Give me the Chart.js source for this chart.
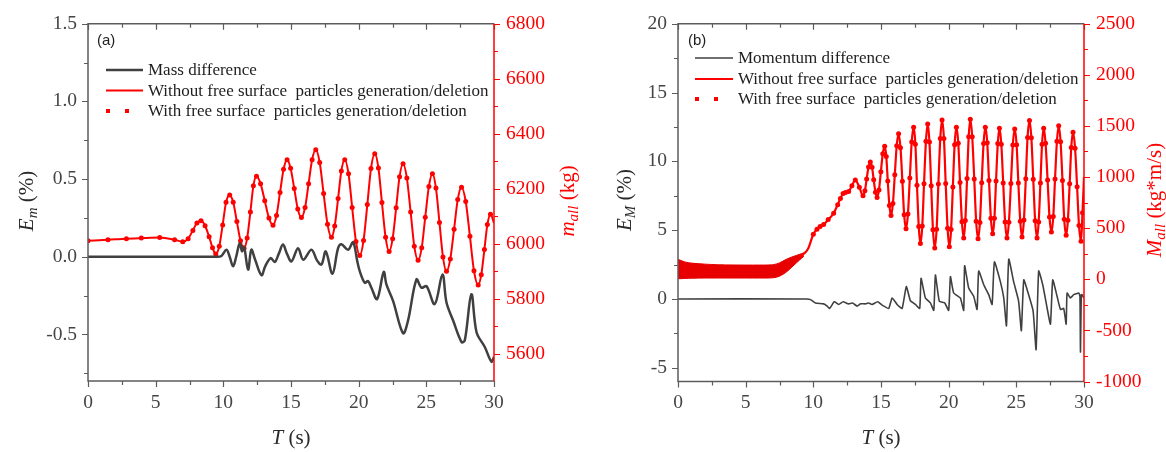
<!DOCTYPE html>
<html>
<head>
<meta charset="utf-8">
<title>Mass and momentum difference</title>
<script src="https://cdn.jsdelivr.net/npm/chart.js@4.4.1/dist/chart.umd.min.js"></script>
<style>
  body { margin: 0; background: #fff; }
  #wrap { position: relative; width: 1166px; height: 452px; }
  canvas { position: absolute; top: 0; }
  #mass_chart { left: 0; }
  #momentum_chart { left: 583px; }
</style>
</head>
<body>
<div id="wrap">
  <canvas id="mass_chart" width="583" height="452"></canvas>
  <canvas id="momentum_chart" width="583" height="452"></canvas>
</div>
<script>
// ---- panel (a): mass ----
const massTime = [
  0, 1.48, 2.84, 3.94, 5.3, 6.4, 7.0, 7.4, 7.75, 8.05, 8.35, 8.65, 8.95, 9.2, 9.44,
  9.7, 9.95, 10.2, 10.47, 10.73, 11.0, 11.27, 11.53, 11.76, 12.0, 12.22, 12.45,
  12.75, 13.06, 13.37, 13.67, 13.93, 14.19, 14.45, 14.71, 14.97, 15.24, 15.5, 15.77,
  16.04, 16.3, 16.56, 16.83, 17.12, 17.41, 17.7, 17.99, 18.23, 18.48, 18.72, 18.97,
  19.25, 19.52, 19.8, 20.08, 20.36, 20.64, 20.91, 21.19, 21.46, 21.72, 21.99, 22.25,
  22.51, 22.77, 23.02, 23.28, 23.56, 23.84, 24.11, 24.39, 24.66, 24.92, 25.19, 25.45,
  25.71, 25.97, 26.23, 26.49, 26.77, 27.05, 27.32, 27.6, 27.91, 28.22, 28.52, 28.83,
  29.06, 29.29, 29.51, 29.74, 30
];
const massWithout = [
  6010, 6014, 6018, 6020, 6022, 6014, 6007, 6018, 6048, 6075, 6083, 6065, 6025, 5985, 5962,
  5990, 6068, 6150, 6177, 6150, 6080, 6010, 5983, 6020, 6115, 6210, 6245,
  6218, 6156, 6093, 6067, 6102, 6186, 6270, 6305, 6274, 6200, 6126, 6095,
  6131, 6218, 6305, 6341, 6295, 6182, 6070, 6023, 6064, 6164, 6264, 6305,
  6254, 6131, 6008, 5957, 6011, 6142, 6273, 6327, 6275, 6149, 6023, 5971,
  6018, 6130, 6243, 6290, 6239, 6115, 5990, 5939, 5985, 6096, 6208, 6254,
  6202, 6077, 5951, 5899, 5944, 6052, 6160, 6205, 6153, 6027, 5901, 5849,
  5887, 5978, 6069, 6107, 6075
];
const massWith = [
  6010, 6014, 6018, 6020, 6022, 6014, 6007, 6018, 6048, 6075, 6083, 6065, 6025, 5985, 5962,
  5990, 6068, 6150, 6177, 6150, 6080, 6010, 5983, 6020, 6115, 6210, 6245,
  6218, 6156, 6093, 6067, 6102, 6186, 6270, 6305, 6274, 6200, 6126, 6095,
  6131, 6218, 6305, 6341, 6295, 6182, 6070, 6023, 6064, 6164, 6264, 6305,
  6254, 6131, 6008, 5957, 6011, 6142, 6273, 6327, 6275, 6149, 6023, 5971,
  6018, 6130, 6243, 6290, 6239, 6115, 5990, 5939, 5985, 6096, 6208, 6254,
  6202, 6077, 5951, 5899, 5944, 6052, 6160, 6205, 6153, 6027, 5901, 5849,
  5887, 5978, 6069, 6107, null
];
const massDiffTime = [
  0, 9.5, 9.86, 10.23, 10.45, 10.72, 10.95, 11.21, 11.38, 11.53, 11.83, 12.07, 12.35, 12.82, 13.1,
  13.5, 13.8, 14.1, 14.41, 14.7, 15.03, 15.52, 15.9, 16.51, 16.93, 17.25, 17.57, 18.06, 18.48, 18.73,
  19.22, 19.59, 19.9, 20.08, 20.45, 20.69, 20.94, 21.36, 21.85, 22.05, 22.54, 23.28, 23.65, 24.27, 24.64,
  25.01, 25.62, 26.19, 26.49, 26.98, 27.6, 27.84, 28.33, 28.71, 29.32, 29.81, 30
];
const massDiff = [
  0, 0, 0.005, 0.045, 0.005, -0.062, 0, 0.087, 0.035, 0.065, -0.083, 0.045, -0.02, -0.119, -0.06,
  -0.009, -0.034, 0.02, 0.078, 0.02, -0.03, 0.055, -0.019, 0.045, -0.025, -0.05, 0.034, -0.11, 0.055, 0.08,
  0.045, 0.093, -0.03, -0.093, -0.168, -0.157, -0.2, -0.273, -0.098, -0.178, -0.284, -0.492, -0.41, -0.146, -0.2,
  -0.189, -0.305, -0.114, -0.295, -0.411, -0.549, -0.54, -0.242, -0.486, -0.581, -0.676, -0.645
];

// ---- panel (b): momentum ----
const bandTime = [0, 0.5, 1, 2, 3, 4, 5, 6, 7, 7.5, 8, 8.5, 9, 9.3];
const bandUpper = [195, 170, 158, 148, 142, 140, 139, 139, 142, 160, 195, 222, 245, 258];
const bandLower = [5, 8, 10, 12, 12, 12, 12, 12, 14, 30, 70, 130, 190, 225];

const momTime = [
  9.0, 9.3, 9.6, 10.0, 10.27, 10.5, 10.76, 11.1, 11.5, 11.8, 12.0, 12.2, 12.37, 12.61, 12.85, 13.1, 13.4, 13.67,
  13.81, 13.94, 14.08, 14.21, 14.34, 14.46, 14.59, 14.71,
  14.85, 14.99, 15.13, 15.27, 15.39, 15.5, 15.62, 15.74,
  15.88, 16.02, 16.16, 16.3, 16.44, 16.58, 16.71, 16.85,
  16.99, 17.13, 17.27, 17.41, 17.54, 17.66, 17.79, 17.91,
  18.05, 18.18, 18.32, 18.45, 18.58, 18.71, 18.84, 18.97,
  19.11, 19.24, 19.38, 19.51, 19.65, 19.78, 19.92, 20.05,
  20.18, 20.31, 20.44, 20.57, 20.71, 20.84, 20.98, 21.11,
  21.23, 21.36, 21.48, 21.6, 21.74, 21.89, 22.03, 22.17,
  22.31, 22.44, 22.58, 22.71, 22.85, 22.98, 23.12, 23.25,
  23.38, 23.5, 23.63, 23.75, 23.89, 24.03, 24.17, 24.31,
  24.45, 24.6, 24.74, 24.88, 25.02, 25.15, 25.29, 25.42,
  25.56, 25.7, 25.83, 25.97, 26.11, 26.25, 26.39, 26.53,
  26.65, 26.78, 26.9, 27.02, 27.16, 27.31, 27.45, 27.59,
  27.73, 27.86, 28.0, 28.13, 28.27, 28.41, 28.54, 28.68,
  28.81, 28.94, 29.06, 29.19, 29.34, 29.49, 29.63, 29.78,
  29.89, 30
];
const momWithout = [
  225, 250, 295, 440, 490, 515, 535, 585, 645, 730, 790, 838, 849, 858, 915, 970, 900, 817,
  865, 982, 1098, 1146, 1095, 973, 851, 800,
  873, 1051, 1228, 1301, 1202, 962, 722, 623,
  740, 1023, 1306, 1423, 1287, 959, 630, 494,
  639, 991, 1343, 1488, 1322, 919, 515, 349,
  520, 935, 1349, 1520, 1343, 914, 484, 307,
  490, 933, 1376, 1559, 1378, 938, 498, 317,
  488, 903, 1317, 1488, 1330, 946, 562, 404,
  574, 985, 1395, 1565, 1394, 981, 568, 397,
  556, 943, 1329, 1488, 1336, 967, 597, 445,
  596, 962, 1327, 1478, 1321, 941, 561, 404,
  559, 937, 1313, 1469, 1315, 941, 567, 413,
  579, 983, 1387, 1553, 1385, 979, 572, 404,
  561, 941, 1321, 1478, 1330, 970, 610, 462,
  614, 982, 1349, 1501, 1345, 966, 586, 430,
  577, 934, 1290, 1437, 1282, 905, 527, 372,
  650, 1000
];
const momWith = [
  null, null, null, 440, 490, 515, 535, 585, 645, 730, 790, 838, 849, 858, 915, 970, 900, 817,
  865, 982, 1098, 1146, 1095, 973, 851, 800,
  873, 1051, 1228, 1301, 1202, 962, 722, 623,
  740, 1023, 1306, 1423, 1287, 959, 630, 494,
  639, 991, 1343, 1488, 1322, 919, 515, 349,
  520, 935, 1349, 1520, 1343, 914, 484, 307,
  490, 933, 1376, 1559, 1378, 938, 498, 317,
  488, 903, 1317, 1488, 1330, 946, 562, 404,
  574, 985, 1395, 1565, 1394, 981, 568, 397,
  556, 943, 1329, 1488, 1336, 967, 597, 445,
  596, 962, 1327, 1478, 1321, 941, 561, 404,
  559, 937, 1313, 1469, 1315, 941, 567, 413,
  579, 983, 1387, 1553, 1385, 979, 572, 404,
  561, 941, 1321, 1478, 1330, 970, 610, 462,
  614, 982, 1349, 1501, 1345, 966, 586, 430,
  577, 934, 1290, 1437, 1282, 905, 527, 372,
  650, null
];
const momDiffTime = [
  0, 9.5, 9.8, 10.15, 10.76, 11.0, 11.2, 11.55, 11.87, 12.2, 12.6, 12.9, 13.23, 13.5, 13.84,
  14.1, 14.34, 14.75, 15.08, 15.57, 15.82, 16.19, 16.56, 16.87, 17.17, 17.54, 17.86, 17.96, 18.28, 18.65,
  18.9, 19.02, 19.31, 19.7, 20.0, 20.13, 20.37, 20.86, 21.11, 21.18, 21.48, 21.85, 22.1, 22.22, 22.59,
  22.96, 23.21, 23.38, 23.82, 24.07, 24.27, 24.44, 24.8, 25.17, 25.37, 25.55, 25.87, 26.24, 26.46, 26.65,
  26.95, 27.27, 27.52, 27.69, 28.01, 28.26, 28.5, 28.68, 28.75, 28.99, 29.24, 29.61, 29.7, 29.74, 29.8,
  29.86, 29.98
];
const momDiff = [
  0, 0, -0.05, -0.29, -0.36, -0.5, -0.69, -0.21, -0.4, -0.21, -0.36, -0.3, -0.52, -0.35, -0.36,
  -0.3, -0.4, -0.21, -0.45, -0.69, 0.07, -0.4, -0.69, 0.9, -0.12, -0.4, -0.69, 1.5, 0.07, -0.29,
  -0.83, 1.74, -0.17, -0.29, -0.83, 1.62, 0.43, 0.07, -0.83, 2.41, 0.79, 0.19, -0.76, 2.03, 1.03,
  0.31, -0.4, 2.69, 1.26, 0.07, -1.95, 2.89, 1.26, -0.17, -2.31, 1.38, 0.43, -0.88, -3.69, 2.03,
  1.03, -0.64, -1.83, 1.38, 0.19, -0.76, -0.69, -1.83, 0.43, 0.07, 0.31, 0.43, 0.2, -3.86, 0.3,
  0.31, 0.07
];

// ---- ticks ----
const timeTicks = [0, 5, 10, 15, 20, 25, 30];
const timeMinor = [2.5, 7.5, 12.5, 17.5, 22.5, 27.5];
const massErrTicks = [-0.5, 0, 0.5, 1.0, 1.5];
const massErrMinor = [-0.75, -0.25, 0.25, 0.75, 1.25];
const massKgTicks = [5600, 5800, 6000, 6200, 6400, 6600, 6800];
const massKgMinor = [5700, 5900, 6100, 6300, 6500, 6700];
const momErrTicks = [-5, 0, 5, 10, 15, 20];
const momErrMinor = [-2.5, 2.5, 7.5, 12.5, 17.5];
const momTicks = [-1000, -500, 0, 500, 1000, 1500, 2000, 2500];
const momMinor = [-750, -250, 250, 750, 1250, 1750, 2250];

const LABEL_WITHOUT = "Without free surface  particles generation/deletion";
const LABEL_WITH = "With free surface  particles generation/deletion";

const RED = "#ff0000";
const BAND_RED = "#e80000";
const GREY = "#404040";
const AXIS_GREY = "#5c5c5c";
const TICK_GREY = "#454545";
const SERIF = '"Liberation Serif", "Times New Roman", serif';

window.onload = init;

function init() {
  initMassChart();
  initMomentumChart();
}

function toPoints(xs, ys) {
  return xs.map(function (t, i) {
    return { x: t, y: ys[i] };
  });
}

function getScale(position, min, max, ticks, digits, color, fitSize, padding) {
  return {
    type: "linear",
    position: position,
    min: min,
    max: max,
    grid: { display: false, drawTicks: false, tickLength: 0 },
    border: { display: false },
    afterBuildTicks: function (scale) {
      scale.ticks = ticks.map(function (v) {
        return { value: v };
      });
    },
    afterFit: function (scale) {
      if (position === "bottom") scale.height = fitSize;
      else scale.width = fitSize;
    },
    ticks: {
      color: color,
      padding: padding,
      maxRotation: 0,
      autoSkip: false,
      font: { family: SERIF, size: 19.5 },
      callback: function (v) {
        return Number(v).toFixed(digits);
      },
    },
  };
}

function tickMarks(ctx, scale, values, len, side) {
  const area = scale.chart.chartArea;
  ctx.beginPath();
  values.forEach(function (v) {
    const p = Math.round(scale.getPixelForValue(v)) + 0.5;
    if (side === "bottom") {
      ctx.moveTo(p, area.bottom);
      ctx.lineTo(p, area.bottom + len);
    } else if (side === "top") {
      ctx.moveTo(p, area.top);
      ctx.lineTo(p, area.top + len);
    } else if (side === "left") {
      ctx.moveTo(area.left - len, p);
      ctx.lineTo(area.left, p);
    } else {
      ctx.moveTo(area.right, p);
      ctx.lineTo(area.right + len, p);
    }
  });
  ctx.stroke();
}

function titleFont(part) {
  const size = part.sub ? 15 : 21;
  return (part.italic ? "italic " : "") + size + "px " + SERIF;
}

function drawTitle(ctx, parts, cx, cy, rotate, color) {
  ctx.save();
  ctx.translate(cx, cy);
  if (rotate) ctx.rotate(-Math.PI / 2);
  ctx.fillStyle = color;
  ctx.textAlign = "left";
  ctx.textBaseline = "alphabetic";
  let widths = parts.map(function (part) {
    ctx.font = titleFont(part);
    return ctx.measureText(part.text).width;
  });
  let total = widths.reduce(function (a, b) {
    return a + b;
  }, 0);
  let pos = -total / 2;
  parts.forEach(function (part, i) {
    ctx.font = titleFont(part);
    ctx.fillText(part.text, pos, part.sub ? 11 : 7);
    pos += widths[i];
  });
  ctx.restore();
}

function drawLegend(ctx, chart, opts) {
  let row = 0;
  chart.data.datasets.forEach(function (ds) {
    if (!ds.legendStyle) return;
    const y = opts.legendRows[row++];
    const x0 = opts.legendX;
    if (ds.legendStyle === "line") {
      ctx.strokeStyle = ds.borderColor;
      ctx.lineWidth = ds.legendWidth;
      ctx.beginPath();
      ctx.moveTo(x0, y);
      ctx.lineTo(x0 + opts.legendLen, y);
      ctx.stroke();
    } else {
      ctx.fillStyle = RED;
      ctx.fillRect(x0, y - 2, 4, 4);
      ctx.fillRect(x0 + 19, y - 2, 4, 4);
    }
    ctx.fillStyle = "#1e1e1e";
    ctx.font = "17px " + SERIF;
    ctx.textAlign = "left";
    ctx.textBaseline = "middle";
    ctx.fillText(ds.label, opts.legendTextX, y + 1);
  });
}

const panelDecor = {
  id: "panelDecor",
  afterDraw: function (chart, args, opts) {
    const ctx = chart.ctx;
    const area = chart.chartArea;
    const sx = chart.scales.x;
    const sy = chart.scales.y;
    const sy1 = chart.scales.y1;
    ctx.save();

    // frame
    ctx.lineWidth = 1.5;
    ctx.strokeStyle = AXIS_GREY;
    ctx.beginPath();
    ctx.moveTo(area.right, area.top);
    ctx.lineTo(area.left, area.top);
    ctx.lineTo(area.left, area.bottom);
    ctx.lineTo(area.right, area.bottom);
    ctx.stroke();

    ctx.lineWidth = 1.2;
    tickMarks(ctx, sx, timeTicks, 6, "bottom");
    tickMarks(ctx, sx, timeMinor, 4, "bottom");
    tickMarks(ctx, sx, timeTicks, 6, "top");
    tickMarks(ctx, sx, timeMinor, 4, "top");
    tickMarks(ctx, sy, opts.yMajor, 6, "left");
    tickMarks(ctx, sy, opts.yMinor, 4, "left");

    ctx.strokeStyle = RED;
    tickMarks(ctx, sy1, opts.y1Major, 6, "right");
    tickMarks(ctx, sy1, opts.y1Minor, 4, "right");
    ctx.lineWidth = 1.5;
    ctx.beginPath();
    ctx.moveTo(area.right, area.top);
    ctx.lineTo(area.right, area.bottom);
    ctx.stroke();

    // titles
    const midX = (area.left + area.right) / 2;
    drawTitle(ctx, opts.xTitle, midX, opts.xTitleY, false, "#2a2a2a");
    drawTitle(ctx, opts.yTitle, opts.yTitleX, opts.titleY, true, "#2a2a2a");
    drawTitle(ctx, opts.y1Title, opts.y1TitleX, opts.titleY, true, RED);

    // panel tag
    ctx.fillStyle = "#1e1e1e";
    ctx.font = '15px "Liberation Sans", Arial, sans-serif';
    ctx.textAlign = "left";
    ctx.textBaseline = "middle";
    ctx.fillText(opts.tag, opts.tagX, 41);

    drawLegend(ctx, chart, opts);
    ctx.restore();
  },
};

function getBaseOptions(padTop) {
  return {
    responsive: false,
    maintainAspectRatio: false,
    devicePixelRatio: 1,
    animation: false,
    events: [],
    layout: { padding: { top: padTop, left: 0, right: 0, bottom: 0 } },
    plugins: { legend: { display: false }, tooltip: { enabled: false } },
  };
}

function initMassChart() {
  const ctx = document.getElementById("mass_chart");
  let options = getBaseOptions(19.5);
  options.scales = {
    x: getScale("bottom", 0, 30, timeTicks, 0, TICK_GREY, 71, 10),
    y: getScale("left", -0.8, 1.5, massErrTicks, 1, TICK_GREY, 88, 11),
    y1: getScale("right", 5500, 6800, massKgTicks, 0, RED, 89, 12),
  };
  options.plugins.panelDecor = {
    tag: "(a)",
    tagX: 97,
    yMajor: massErrTicks,
    yMinor: massErrMinor,
    y1Major: massKgTicks,
    y1Minor: massKgMinor,
    xTitle: [{ text: "T", italic: true }, { text: " (s)" }],
    yTitle: [{ text: "E", italic: true }, { text: "m", italic: true, sub: true }, { text: " (%)" }],
    y1Title: [{ text: "m", italic: true }, { text: "all", italic: true, sub: true }, { text: " (kg)" }],
    xTitleY: 437,
    yTitleX: 26,
    y1TitleX: 567,
    titleY: 201,
    legendX: 106,
    legendLen: 37,
    legendTextX: 148,
    legendRows: [70, 90.5, 111],
  };

  let chart = new Chart(ctx, {
    type: "line",
    data: {
      datasets: [
        {
          label: "Mass difference",
          data: toPoints(massDiffTime, massDiff),
          yAxisID: "y",
          borderColor: GREY,
          borderWidth: 2.5,
          pointRadius: 0,
          tension: 0.35,
          order: 0,
          legendStyle: "line",
          legendWidth: 2.5,
        },
        {
          label: LABEL_WITHOUT,
          data: toPoints(massTime, massWithout),
          yAxisID: "y1",
          borderColor: RED,
          borderWidth: 2,
          pointRadius: 0,
          cubicInterpolationMode: "monotone",
          order: 2,
          legendStyle: "line",
          legendWidth: 2,
        },
        {
          label: LABEL_WITH,
          data: toPoints(massTime, massWith),
          yAxisID: "y1",
          showLine: false,
          pointRadius: 2.5,
          pointBorderWidth: 0,
          pointBackgroundColor: RED,
          borderColor: RED,
          order: 1,
          legendStyle: "dots",
        },
      ],
    },
    options: options,
    plugins: [panelDecor],
  });
  return chart;
}

function initMomentumChart() {
  const ctx = document.getElementById("momentum_chart");
  let options = getBaseOptions(20);
  options.scales = {
    x: getScale("bottom", 0, 30, timeTicks, 0, TICK_GREY, 70.5, 10),
    y: getScale("left", -6, 20, momErrTicks, 0, TICK_GREY, 95, 11),
    y1: getScale("right", -1000, 2500, momTicks, 0, RED, 82, 12),
  };
  options.plugins.panelDecor = {
    tag: "(b)",
    tagX: 105,
    yMajor: momErrTicks,
    yMinor: momErrMinor,
    y1Major: momTicks,
    y1Minor: momMinor,
    xTitle: [{ text: "T", italic: true }, { text: " (s)" }],
    yTitle: [{ text: "E", italic: true }, { text: "M", italic: true, sub: true }, { text: " (%)" }],
    y1Title: [{ text: "M", italic: true }, { text: "all", italic: true, sub: true }, { text: " (kg*m/s)" }],
    xTitleY: 437,
    yTitleX: 41,
    y1TitleX: 571,
    titleY: 200,
    legendX: 112,
    legendLen: 38,
    legendTextX: 155,
    legendRows: [58, 79, 99],
  };

  let chart = new Chart(ctx, {
    type: "line",
    data: {
      datasets: [
        {
          label: "Momentum difference",
          data: toPoints(momDiffTime, momDiff),
          yAxisID: "y",
          borderColor: GREY,
          borderWidth: 1.6,
          pointRadius: 0,
          tension: 0.15,
          order: 0,
          legendStyle: "line",
          legendWidth: 1.4,
        },
        {
          label: LABEL_WITHOUT,
          data: toPoints(momTime, momWithout),
          yAxisID: "y1",
          borderColor: RED,
          borderWidth: 2.2,
          pointRadius: 0,
          cubicInterpolationMode: "monotone",
          order: 2,
          legendStyle: "line",
          legendWidth: 2,
        },
        {
          label: "band upper",
          data: toPoints(bandTime, bandUpper),
          yAxisID: "y1",
          borderColor: BAND_RED,
          backgroundColor: BAND_RED,
          borderWidth: 1,
          pointRadius: 0,
          tension: 0.3,
          fill: "+1",
          order: 3,
        },
        {
          label: "band lower",
          data: toPoints(bandTime, bandLower),
          yAxisID: "y1",
          borderColor: BAND_RED,
          borderWidth: 1,
          pointRadius: 0,
          tension: 0.3,
          fill: false,
          order: 3,
        },
        {
          label: LABEL_WITH,
          data: toPoints(momTime, momWith),
          yAxisID: "y1",
          showLine: false,
          pointRadius: 2.5,
          pointBorderWidth: 0,
          pointBackgroundColor: RED,
          borderColor: RED,
          order: 1,
          legendStyle: "dots",
        },
      ],
    },
    options: options,
    plugins: [panelDecor],
  });
  return chart;
}
</script>
</body>
</html>
